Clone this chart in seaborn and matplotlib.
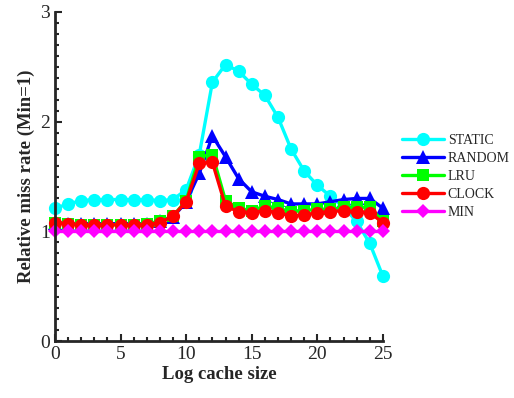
import numpy as np
import pandas as pd
import matplotlib
matplotlib.use("Agg")
import matplotlib.pyplot as plt
from matplotlib.ticker import MultipleLocator
import seaborn as sns

# log cache size 0..25
cache_size = list(range(26))

static_rate = [1.21, 1.25, 1.28, 1.29, 1.29, 1.29, 1.29, 1.29, 1.28, 1.29,
               1.38, 1.70, 2.36, 2.52, 2.46, 2.34, 2.24, 2.04, 1.75, 1.55,
               1.42, 1.32, 1.22, 1.09, 0.89, 0.59]
random_rate = [1.08, 1.07, 1.07, 1.07, 1.07, 1.07, 1.07, 1.07, 1.09, 1.13,
               1.27, 1.53, 1.87, 1.68, 1.48, 1.36, 1.32, 1.29, 1.25, 1.25,
               1.25, 1.27, 1.29, 1.30, 1.30, 1.21]
lru_rate = [1.08, 1.07, 1.06, 1.06, 1.06, 1.06, 1.06, 1.07, 1.09, 1.14,
            1.28, 1.68, 1.70, 1.28, 1.21, 1.19, 1.23, 1.21, 1.18, 1.19,
            1.20, 1.20, 1.22, 1.22, 1.22, 1.09]
clock_rate = [1.08, 1.07, 1.06, 1.06, 1.06, 1.06, 1.06, 1.06, 1.08, 1.14,
              1.27, 1.62, 1.63, 1.23, 1.18, 1.17, 1.19, 1.17, 1.14, 1.15,
              1.17, 1.18, 1.19, 1.18, 1.17, 1.08]
min_rate = [1.0] * 26

series_names = ["STATIC", "RANDOM", "LRU", "CLOCK", "MIN"]
series_vals = [static_rate, random_rate, lru_rate, clock_rate, min_rate]
colors = {"STATIC": "#00ffff", "RANDOM": "#0000ff", "LRU": "#00ff00",
          "CLOCK": "#ff0000", "MIN": "#ff00ff"}
markers = {"STATIC": "o", "RANDOM": "^", "LRU": "s", "CLOCK": "o", "MIN": "D"}
msizes = {"STATIC": 9.5, "RANDOM": 9.5, "LRU": 8.5, "CLOCK": 9.5, "MIN": 7.5}

rows = []
for name, vals in zip(series_names, series_vals):
    for x, v in zip(cache_size, vals):
        rows.append((name, x, v))
df = pd.DataFrame(rows, columns=["policy", "size", "rate"])

sns.set_style("ticks")
plt.rcParams["font.family"] = ["Liberation Serif", "DejaVu Serif"]

fig = plt.figure(figsize=(5.14, 3.98), dpi=100)
ax = fig.add_axes([0.107, 0.143, 0.638, 0.827])

for name in series_names:
    sub = df[df["policy"] == name]
    sns.lineplot(data=sub, x="size", y="rate", ax=ax, color=colors[name],
                 marker=markers[name], markersize=msizes[name],
                 markeredgewidth=0, linewidth=2.4, label=name, clip_on=False)

ax.set_xlim(0, 25)
ax.set_ylim(0, 3)
ax.xaxis.set_major_locator(MultipleLocator(5))
ax.xaxis.set_minor_locator(MultipleLocator(1))
ax.yaxis.set_major_locator(MultipleLocator(1))
ax.yaxis.set_minor_locator(MultipleLocator(0.1))
ax.tick_params(which="major", direction="in", length=5, width=1.5, labelsize=14)
ax.tick_params(which="minor", direction="in", length=3, width=1.5)
for s in ["left", "bottom"]:
    ax.spines[s].set_linewidth(2)
sns.despine(ax=ax)
ax.set_xlabel("Log cache size", fontsize=13.5, fontweight="bold", labelpad=2)
ax.set_ylabel("Relative miss rate (Min=1)", fontsize=13.5, fontweight="bold", labelpad=4)

ax.legend(loc="center left", bbox_to_anchor=(1.02, 0.5), frameon=False,
          fontsize=10, handlelength=3, labelspacing=0.35, handletextpad=0.3)

fig.savefig("out.png", dpi=100)
